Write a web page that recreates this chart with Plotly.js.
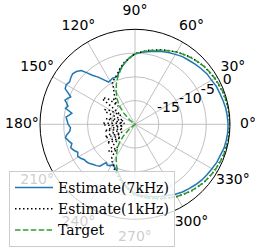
<!DOCTYPE html>
<html>
<head>
<meta charset="utf-8">
<script src="https://cdn.plot.ly/plotly-3.0.1.min.js"></script>
<style>html,body{margin:0;padding:0;background:#fff;}#chart{width:262px;height:250px;}</style>
</head>
<body>
<div id="chart"></div>
<script>
// Series names
var seriesNames = ["Estimate(7kHz)", "Estimate(1kHz)", "Target"];

// Estimate(7kHz): angle (deg) and level (dB)
var theta7k = [0,5,10,15,20,25,30,35,40,45,50,55,60,65,70,75,80,85,90,95,100,105,110,113,116,119,122,125,128,131,133,135,138,141,144,147,150,153,155,157,159,161,163,165,167,170,172,174,177,180,183,186,189,191,194,197,200,203,206,209,212,215,218,221,224,227,230,233,236,239,242,245,248,251,255,260,265,270,275,280,285,290,295,300,305,310,315,320,325,330,335,340,345,350,355,360];
var r7k = [-0.4,-0.5,-0.6,-0.8,-1.0,-1.1,-1.4,-1.5,-1.8,-2.1,-2.4,-2.6,-3.0,-3.3,-3.7,-4.1,-4.5,-4.8,-5.2,-6.0,-7.0,-8.0,-9.2,-9.3,-9.2,-9.4,-9.5,-8.6,-7.4,-6.3,-5.2,-4.0,-3.4,-3.1,-3.3,-3.6,-3.3,-3.5,-4.5,-5.3,-4.8,-4.4,-5.0,-5.4,-5.0,-6.5,-6.0,-5.4,-5.7,-5.9,-6.4,-6.2,-5.4,-5.1,-5.6,-6.1,-5.6,-6.0,-6.6,-6.2,-6.5,-7.0,-7.1,-7.4,-7.8,-8.1,-8.5,-9.9,-9.6,-9.8,-10.4,-9.9,-9.6,-9.2,-8.3,-7.2,-6.3,-5.4,-4.9,-4.6,-4.2,-3.8,-3.5,-3.0,-2.6,-2.3,-2.0,-1.7,-1.5,-1.3,-1.0,-0.9,-0.6,-0.5,-0.4,-0.4];

// Estimate(1kHz)
var theta1k = [0,10,20,30,40,50,60,70,80,90,100,105,110,115,118,121,124,127,130,133,136,139,142,145,148,151,154,157,160,163,166,169,172,175,178,181,184,187,190,193,196,199,202,205,208,211,214,217,220,223,226,229,232,235,238,241,244,248,252,256,260,270,280,290,300,310,320,330,340,350,360];
var r1k = [0,-0.1,-0.3,-0.6,-1.0,-1.6,-2.4,-3.3,-4.2,-5.1,-6.8,-7.8,-8.9,-9.6,-9.8,-11.3,-12.0,-13.2,-12.8,-14.8,-12.5,-11.6,-11.3,-15.5,-16.5,-14.0,-13.0,-13.2,-16.8,-17.5,-15.0,-13.8,-16.5,-17.8,-13.4,-13.3,-16.0,-17.5,-14.0,-13.8,-16.2,-17.3,-13.5,-13.1,-15.8,-16.8,-12.9,-13.6,-16.0,-14.2,-12.0,-12.3,-14.0,-11.5,-10.8,-10.6,-9.8,-9.2,-8.5,-7.7,-7.0,-5.1,-4.2,-3.3,-2.4,-1.6,-1.0,-0.6,-0.3,-0.1,0];

// Target
var thetaT = [0,5,10,15,20,25,30,35,40,45,50,55,60,65,70,75,80,85,90,95,100,105,110,115,120,125,130,135,140,145,180,215,220,225,230,235,240,245,250,255,260,265,270,275,280,285,290,295,300,305,310,315,320,325,330,335,340,345,350,355,360];
var rT = [0,-0.02,-0.07,-0.15,-0.27,-0.42,-0.6,-0.8,-1.05,-1.35,-1.7,-2.05,-2.45,-2.9,-3.4,-3.9,-4.2,-4.7,-5.2,-6.0,-7.0,-8.2,-9.4,-10.7,-12.1,-13.4,-14.8,-16.6,-18.5,-20,-20,-20,-18.5,-16.6,-14.8,-13.4,-12.1,-10.7,-9.4,-8.2,-7.0,-6.0,-5.2,-4.7,-4.2,-3.9,-3.4,-2.9,-2.45,-2.05,-1.7,-1.35,-1.05,-0.8,-0.6,-0.42,-0.27,-0.15,-0.07,-0.02,0];

// Axis ticks
var angleTicks = [0,30,60,90,120,150,180,210,240,270,300,330];
var angleTickText = ["0°","30°","60°","90°","120°","150°","180°","210°","240°","270°","300°","330°"];
var radialTicks = [-15,-10,-5,0];
var radialTickText = ["-15","-10","-5","0"];
var radialRange = [-20, 0];
var labelRange = [-20, 3.8];   // companion scale for the angle labels, same centre and dB scale
var radialLabelAngle = 22.5;

var tickFont = {family:"DejaVu Sans", size:14, color:"#000"};

// main polar geometry (pixels): centre and radius
var W = 262, H = 250, CX = 135, CY = 124.3, R = 95;
var R2 = R * (labelRange[1] - labelRange[0]) / (radialRange[1] - radialRange[0]);

var traces = [
  {type:"scatterpolar", mode:"lines", name:seriesNames[0], theta:theta7k, r:r7k,
   line:{color:"#1f77b4", width:1.5}},
  {type:"scatterpolar", mode:"lines", name:seriesNames[1], theta:theta1k, r:r1k,
   line:{color:"#000000", width:1.5, dash:"1.5px,2.5px"}},
  {type:"scatterpolar", mode:"lines", name:seriesNames[2], theta:thetaT, r:rT,
   line:{color:"#2ca02c", width:1.5, dash:"5.5px,2.4px"}},
  // radial tick labels (anchored bottom-left at each tick)
  {type:"scatterpolar", mode:"text", showlegend:false, hoverinfo:"skip", cliponaxis:false,
   theta:radialTicks.map(function(){return radialLabelAngle;}),
   r:radialTicks, text:radialTickText, textposition:"top right", textfont:tickFont},
  // angular tick labels, centred just outside the circle
  {type:"scatterpolar", subplot:"polar2", mode:"text", showlegend:false, hoverinfo:"skip", cliponaxis:false,
   theta:angleTicks, r:angleTicks.map(function(){return labelRange[1];}),
   text:angleTickText, textposition:"middle center", textfont:tickFont}
];

var layout = {
  width:W, height:H,
  margin:{l:0,r:0,t:0,b:0},
  paper_bgcolor:"#fff",
  showlegend:true,
  font:{family:"DejaVu Sans", size:14, color:"#000"},
  polar:{
    domain:{x:[(CX-R)/W, (CX+R)/W], y:[1-(CY+R)/H, 1-(CY-R)/H]},
    bgcolor:"#fff",
    radialaxis:{range:radialRange, tickvals:radialTicks, showticklabels:false, ticks:"",
      showline:false, gridcolor:"#b0b0b0", gridwidth:0.8, angle:radialLabelAngle},
    angularaxis:{rotation:0, direction:"counterclockwise", tickvals:angleTicks,
      showticklabels:false, ticks:"",
      showline:true, linecolor:"#000", linewidth:1, gridcolor:"#b0b0b0", gridwidth:0.8}
  },
  polar2:{
    domain:{x:[(CX-R2)/W, (CX+R2)/W], y:[1-(CY+R2)/H, 1-(CY-R2)/H]},
    bgcolor:"rgba(0,0,0,0)",
    radialaxis:{range:labelRange, visible:false},
    angularaxis:{rotation:0, direction:"counterclockwise", visible:false}
  },
  legend:{x:9/W, y:1-171/H, xanchor:"left", yanchor:"top",
    bgcolor:"rgba(255,255,255,0.8)", bordercolor:"#cccccc", borderwidth:1,
    font:{family:"DejaVu Serif", size:14, color:"#000"}, itemwidth:38, tracegroupgap:0}
};

Plotly.newPlot("chart", traces, layout, {staticPlot:true, displayModeBar:false});
</script>
</body>
</html>
